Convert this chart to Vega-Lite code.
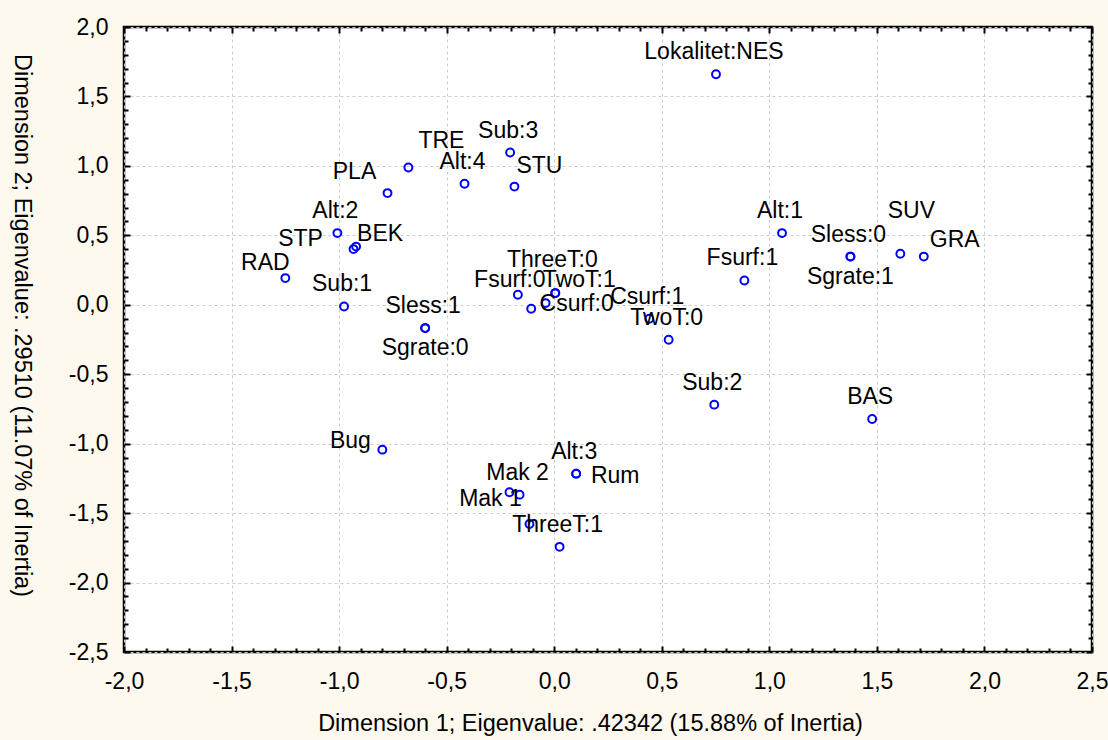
{
  "$schema": "https://vega.github.io/schema/vega-lite/v6.json",
  "width": 968,
  "height": 625,
  "autosize": {"type": "none"},
  "padding": {"left": 124, "top": 27, "right": 16, "bottom": 88},
  "background": "#FEF9EE",
  "config": {
    "view": {"stroke": "#000000", "strokeWidth": 2.5, "fill": "#FFFFFF"},
    "font": "Liberation Sans",
    "text": {"font": "Liberation Sans", "fontSize": 23, "color": "#000000", "baseline": "middle", "align": "center"}
  },
  "data": {
    "values": [
      {"name": "Lokalitet:NES", "x": 0.752, "y": 1.660},
      {"name": "TRE", "x": -0.678, "y": 0.988},
      {"name": "PLA", "x": -0.775, "y": 0.804},
      {"name": "Alt:4", "x": -0.417, "y": 0.871},
      {"name": "Sub:3", "x": -0.205, "y": 1.096},
      {"name": "STU", "x": -0.185, "y": 0.851},
      {"name": "Alt:2", "x": -1.008, "y": 0.516},
      {"name": "BEK", "x": -0.921, "y": 0.419},
      {"name": "STP", "x": -0.933, "y": 0.401},
      {"name": "RAD", "x": -1.250, "y": 0.192},
      {"name": "Sub:1", "x": -0.977, "y": -0.012},
      {"name": "Sless:1", "x": -0.600, "y": -0.168},
      {"name": "Sgrate:0", "x": -0.600, "y": -0.168},
      {"name": "Fsurf:0", "x": -0.169, "y": 0.072},
      {"name": "", "x": -0.107, "y": -0.029},
      {"name": "Csurf:0", "x": -0.040, "y": 0.012},
      {"name": "ThreeT:0", "x": 0.005, "y": 0.084},
      {"name": "TwoT:1", "x": 0.005, "y": 0.084},
      {"name": "Csurf:1", "x": 0.442, "y": -0.101},
      {"name": "TwoT:0", "x": 0.532, "y": -0.252},
      {"name": "Alt:1", "x": 1.059, "y": 0.516},
      {"name": "Sless:0", "x": 1.377, "y": 0.347},
      {"name": "Sgrate:1", "x": 1.377, "y": 0.347},
      {"name": "SUV", "x": 1.609, "y": 0.367},
      {"name": "GRA", "x": 1.718, "y": 0.347},
      {"name": "Fsurf:1", "x": 0.884, "y": 0.175},
      {"name": "Sub:2", "x": 0.744, "y": -0.719},
      {"name": "BAS", "x": 1.478, "y": -0.822},
      {"name": "Bug", "x": -0.799, "y": -1.043},
      {"name": "Alt:3", "x": 0.102, "y": -1.216},
      {"name": "Rum", "x": 0.102, "y": -1.216},
      {"name": "Mak 1", "x": -0.208, "y": -1.350},
      {"name": "Mak 2", "x": -0.161, "y": -1.367},
      {"name": "", "x": -0.115, "y": -1.578},
      {"name": "ThreeT:1", "x": 0.025, "y": -1.743}
    ]
  },
  "resolve": {"axis": {"x": "independent", "y": "independent"}},
  "layer": [
    {
      "mark": {"type": "point", "shape": "circle", "filled": false, "stroke": "#0000FF", "strokeWidth": 2, "size": 62, "opacity": 1},
      "encoding": {
        "x": {
          "field": "x", "type": "quantitative",
          "scale": {"domain": [-2, 2.5], "nice": false, "zero": false},
          "axis": {
            "orient": "bottom",
            "values": [-2,-1.9,-1.8,-1.7,-1.6,-1.5,-1.4,-1.3,-1.2,-1.1,-1,-0.9,-0.8,-0.7,-0.6,-0.5,-0.4,-0.3,-0.2,-0.1,0,0.1,0.2,0.3,0.4,0.5,0.6,0.7,0.8,0.9,1,1.1,1.2,1.3,1.4,1.5,1.6,1.7,1.8,1.9,2,2.1,2.2,2.3,2.4,2.5],
            "labelExpr": "abs(datum.value*2 - round(datum.value*2)) < 0.001 ? (datum.value == round(datum.value) ? toString(datum.value) + ',0' : replace(toString(datum.value), '.', ',')) : ''",
            "labelOverlap": false,
            "labelFlush": false,
            "labelFont": "Liberation Sans",
            "labelFontSize": 23,
            "labelColor": "#000000",
            "labelPadding": 24,
            "domain": false,
            "ticks": true,
            "tickColor": "#000000",
            "tickWidth": 2,
            "tickSize": {"condition": {"test": "abs(datum.value*2 - round(datum.value*2)) < 0.001", "value": -6}, "value": -4},
            "grid": true,
            "gridColor": "#CCCCCC",
            "gridDash": [3, 3],
            "gridWidth": 1,
            "gridOpacity": {"condition": {"test": "abs(datum.value*2 - round(datum.value*2)) < 0.001", "value": 1}, "value": 0},
            "title": "Dimension 1; Eigenvalue: .42342 (15.88% of Inertia)",
            "titleFont": "Liberation Sans",
            "titleFontSize": 23.5,
            "titleFontWeight": "normal",
            "titleColor": "#000000",
            "titleBaseline": "middle",
            "titleX": 466,
            "titleY": 71
          }
        },
        "y": {
          "field": "y", "type": "quantitative",
          "scale": {"domain": [-2.5, 2], "nice": false, "zero": false},
          "axis": {
            "orient": "left",
            "values": [-2.5,-2.4,-2.3,-2.2,-2.1,-2,-1.9,-1.8,-1.7,-1.6,-1.5,-1.4,-1.3,-1.2,-1.1,-1,-0.9,-0.8,-0.7,-0.6,-0.5,-0.4,-0.3,-0.2,-0.1,0,0.1,0.2,0.3,0.4,0.5,0.6,0.7,0.8,0.9,1,1.1,1.2,1.3,1.4,1.5,1.6,1.7,1.8,1.9,2],
            "labelExpr": "abs(datum.value*2 - round(datum.value*2)) < 0.001 ? (datum.value == round(datum.value) ? toString(datum.value) + ',0' : replace(toString(datum.value), '.', ',')) : ''",
            "labelOverlap": false,
            "labelFlush": false,
            "labelFont": "Liberation Sans",
            "labelFontSize": 23,
            "labelColor": "#000000",
            "labelPadding": 22,
            "domain": false,
            "ticks": true,
            "tickColor": "#000000",
            "tickWidth": 2,
            "tickSize": {"condition": {"test": "abs(datum.value*2 - round(datum.value*2)) < 0.001", "value": -6}, "value": -4},
            "grid": true,
            "gridColor": "#CCCCCC",
            "gridDash": [3, 3],
            "gridWidth": 1,
            "gridOpacity": {"condition": {"test": "abs(datum.value*2 - round(datum.value*2)) < 0.001", "value": 1}, "value": 0},
            "title": "Dimension 2; Eigenvalue: .29510 (11.07% of Inertia)",
            "titleFont": "Liberation Sans",
            "titleFontSize": 23.5,
            "titleFontWeight": "normal",
            "titleColor": "#000000",
            "titleAngle": 90,
            "titleBaseline": "middle",
            "titleX": -103,
            "titleY": 298
          }
        }
      }
    },
    {
      "transform": [{"filter": {"field": "name", "oneOf": ["Lokalitet:NES", "Alt:4", "Sub:3", "Alt:2", "Sub:1", "Sless:1", "Csurf:1", "TwoT:0", "Alt:1", "Sless:0", "Fsurf:1", "Sub:2", "BAS", "Alt:3", "ThreeT:1", "Mak 2"]}}],
      "mark": {"type": "text", "dx": -2, "dy": -22},
      "encoding": {
        "x": {
          "field": "x", "type": "quantitative",
          "axis": {
            "orient": "top",
            "values": [-2,-1.9,-1.8,-1.7,-1.6,-1.5,-1.4,-1.3,-1.2,-1.1,-1,-0.9,-0.8,-0.7,-0.6,-0.5,-0.4,-0.3,-0.2,-0.1,0,0.1,0.2,0.3,0.4,0.5,0.6,0.7,0.8,0.9,1,1.1,1.2,1.3,1.4,1.5,1.6,1.7,1.8,1.9,2,2.1,2.2,2.3,2.4,2.5],
            "labels": false, "domain": false, "grid": false, "title": null,
            "tickColor": "#000000", "tickWidth": 2,
            "tickSize": {"condition": {"test": "abs(datum.value*2 - round(datum.value*2)) < 0.001", "value": -6}, "value": -4}
          }
        },
        "y": {
          "field": "y", "type": "quantitative",
          "axis": {
            "orient": "right",
            "values": [-2.5,-2.4,-2.3,-2.2,-2.1,-2,-1.9,-1.8,-1.7,-1.6,-1.5,-1.4,-1.3,-1.2,-1.1,-1,-0.9,-0.8,-0.7,-0.6,-0.5,-0.4,-0.3,-0.2,-0.1,0,0.1,0.2,0.3,0.4,0.5,0.6,0.7,0.8,0.9,1,1.1,1.2,1.3,1.4,1.5,1.6,1.7,1.8,1.9,2],
            "labels": false, "domain": false, "grid": false, "title": null,
            "tickColor": "#000000", "tickWidth": 2,
            "tickSize": {"condition": {"test": "abs(datum.value*2 - round(datum.value*2)) < 0.001", "value": -6}, "value": -4}
          }
        },
        "text": {"field": "name"}
      }
    },
    {
      "transform": [{"filter": {"field": "name", "oneOf": ["Sgrate:0", "Sgrate:1"]}}],
      "mark": {"type": "text", "dx": 0, "dy": 20},
      "encoding": {"x": {"field": "x", "type": "quantitative", "axis": null}, "y": {"field": "y", "type": "quantitative", "axis": null}, "text": {"field": "name"}}
    },
    {
      "transform": [{"filter": {"field": "name", "oneOf": ["TRE"]}}],
      "mark": {"type": "text", "dx": 33, "dy": -27},
      "encoding": {"x": {"field": "x", "type": "quantitative", "axis": null}, "y": {"field": "y", "type": "quantitative", "axis": null}, "text": {"field": "name"}}
    },
    {
      "transform": [{"filter": {"field": "name", "oneOf": ["PLA"]}}],
      "mark": {"type": "text", "dx": -33, "dy": -21},
      "encoding": {"x": {"field": "x", "type": "quantitative", "axis": null}, "y": {"field": "y", "type": "quantitative", "axis": null}, "text": {"field": "name"}}
    },
    {
      "transform": [{"filter": {"field": "name", "oneOf": ["STU"]}}],
      "mark": {"type": "text", "dx": 25, "dy": -21},
      "encoding": {"x": {"field": "x", "type": "quantitative", "axis": null}, "y": {"field": "y", "type": "quantitative", "axis": null}, "text": {"field": "name"}}
    },
    {
      "transform": [{"filter": {"field": "name", "oneOf": ["BEK", "TwoT:1"]}}],
      "mark": {"type": "text", "dx": 24, "dy": -13},
      "encoding": {"x": {"field": "x", "type": "quantitative", "axis": null}, "y": {"field": "y", "type": "quantitative", "axis": null}, "text": {"field": "name"}}
    },
    {
      "transform": [{"filter": {"field": "name", "oneOf": ["STP"]}}],
      "mark": {"type": "text", "dx": -53, "dy": -10},
      "encoding": {"x": {"field": "x", "type": "quantitative", "axis": null}, "y": {"field": "y", "type": "quantitative", "axis": null}, "text": {"field": "name"}}
    },
    {
      "transform": [{"filter": {"field": "name", "oneOf": ["RAD"]}}],
      "mark": {"type": "text", "dx": -20, "dy": -15},
      "encoding": {"x": {"field": "x", "type": "quantitative", "axis": null}, "y": {"field": "y", "type": "quantitative", "axis": null}, "text": {"field": "name"}}
    },
    {
      "transform": [{"filter": {"field": "name", "oneOf": ["ThreeT:0"]}}],
      "mark": {"type": "text", "dx": -3, "dy": -33},
      "encoding": {"x": {"field": "x", "type": "quantitative", "axis": null}, "y": {"field": "y", "type": "quantitative", "axis": null}, "text": {"field": "name"}}
    },
    {
      "transform": [{"filter": {"field": "name", "oneOf": ["Fsurf:0"]}}],
      "mark": {"type": "text", "dx": -8, "dy": -15},
      "encoding": {"x": {"field": "x", "type": "quantitative", "axis": null}, "y": {"field": "y", "type": "quantitative", "axis": null}, "text": {"field": "name"}}
    },
    {
      "transform": [{"filter": {"field": "name", "oneOf": ["Csurf:0"]}}],
      "mark": {"type": "text", "dx": 31, "dy": 1},
      "encoding": {"x": {"field": "x", "type": "quantitative", "axis": null}, "y": {"field": "y", "type": "quantitative", "axis": null}, "text": {"field": "name"}}
    },
    {
      "transform": [{"filter": {"field": "name", "oneOf": ["Rum"]}}],
      "mark": {"type": "text", "dx": 39, "dy": 2},
      "encoding": {"x": {"field": "x", "type": "quantitative", "axis": null}, "y": {"field": "y", "type": "quantitative", "axis": null}, "text": {"field": "name"}}
    },
    {
      "transform": [{"filter": {"field": "name", "oneOf": ["SUV"]}}],
      "mark": {"type": "text", "dx": 11, "dy": -43},
      "encoding": {"x": {"field": "x", "type": "quantitative", "axis": null}, "y": {"field": "y", "type": "quantitative", "axis": null}, "text": {"field": "name"}}
    },
    {
      "transform": [{"filter": {"field": "name", "oneOf": ["GRA"]}}],
      "mark": {"type": "text", "dx": 31, "dy": -17},
      "encoding": {"x": {"field": "x", "type": "quantitative", "axis": null}, "y": {"field": "y", "type": "quantitative", "axis": null}, "text": {"field": "name"}}
    },
    {
      "transform": [{"filter": {"field": "name", "oneOf": ["Bug"]}}],
      "mark": {"type": "text", "dx": -32, "dy": -9},
      "encoding": {"x": {"field": "x", "type": "quantitative", "axis": null}, "y": {"field": "y", "type": "quantitative", "axis": null}, "text": {"field": "name"}}
    },
    {
      "transform": [{"filter": {"field": "name", "oneOf": ["Mak 1"]}}],
      "mark": {"type": "text", "dx": -19, "dy": 7},
      "encoding": {"x": {"field": "x", "type": "quantitative", "axis": null}, "y": {"field": "y", "type": "quantitative", "axis": null}, "text": {"field": "name"}}
    }
  ]
}
